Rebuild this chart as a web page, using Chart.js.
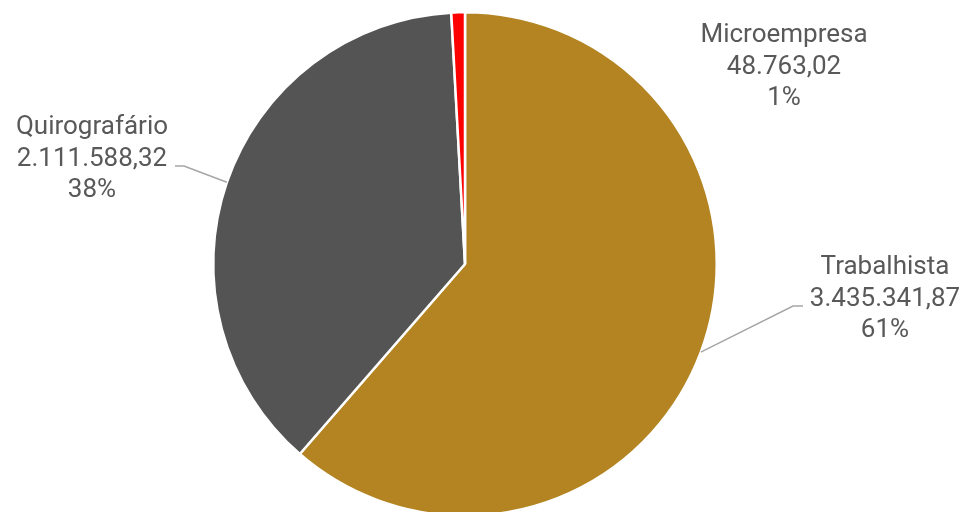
<!DOCTYPE html>
<html>
<head>
<meta charset="utf-8">
<script src="https://cdn.jsdelivr.net/npm/chart.js@4"></script>
<style>
  html, body { margin: 0; padding: 0; background: #fff; overflow: hidden; }
  #wrap { position: relative; width: 967px; height: 521px; }
</style>
</head>
<body>
<div id="wrap"><canvas id="myChart"></canvas></div>
<script>
const categories = ['Trabalhista', 'Quirografário', 'Microempresa'];
const values = [3435341.87, 2111588.32, 48763.02];
const sliceColors = ['#B38421', '#545454', '#FF0000'];

function formatBR(n) {
  const parts = n.toFixed(2).split('.');
  const intPart = parts[0].replace(/\B(?=(\d{3})+(?!\d))/g, '.');
  return intPart + ',' + parts[1];
}

// label placement (text centre of middle line, plus leader elbow / end)
const labelLayout = [
  { x: 885, y: 299, elbow: [793, 306], end: [803, 306] },
  { x: 92, y: 159, elbow: [184, 166], end: [175, 166] },
  { x: 784, y: 67, elbow: null, end: null }
];

const pieLabels = {
  id: 'pieLabels',
  afterDatasetsDraw(chart) {
    const ctx = chart.ctx;
    const meta = chart.getDatasetMeta(0);
    const data = chart.data.datasets[0].data;
    const total = data.reduce((a, b) => a + b, 0);
    ctx.save();
    meta.data.forEach((arc, i) => {
      const lay = labelLayout[i];
      const p = arc.getProps(['x', 'y', 'startAngle', 'endAngle', 'outerRadius'], true);
      const mid = (p.startAngle + p.endAngle) / 2;
      if (lay.elbow) {
        const ax = p.x + Math.cos(mid) * p.outerRadius;
        const ay = p.y + Math.sin(mid) * p.outerRadius;
        ctx.strokeStyle = '#A6A6A6';
        ctx.lineWidth = 1.5;
        ctx.beginPath();
        ctx.moveTo(ax, ay);
        ctx.lineTo(lay.elbow[0], lay.elbow[1]);
        ctx.lineTo(lay.end[0], lay.end[1]);
        ctx.stroke();
      }
      const lines = [
        chart.data.labels[i],
        formatBR(data[i]),
        Math.round(data[i] / total * 100) + '%'
      ];
      ctx.fillStyle = '#595959';
      ctx.font = '26px Roboto';
      ctx.textAlign = 'center';
      ctx.textBaseline = 'middle';
      lines.forEach((t, k) => {
        ctx.fillText(t, lay.x, lay.y + (k - 1) * 31.5);
      });
    });
    ctx.restore();
  }
};

document.addEventListener('DOMContentLoaded', function() {
  if (typeof Chart === 'undefined') {
    console.error('Chart.js is not loaded');
    return;
  }
  const ctx = document.getElementById('myChart');
  new Chart(ctx, {
    type: 'pie',
    data: {
      labels: categories,
      datasets: [{
        data: values,
        backgroundColor: sliceColors,
        borderColor: '#FFFFFF',
        borderWidth: 2.5
      }]
    },
    options: {
      responsive: true,
      maintainAspectRatio: false,
      animation: false,
      layout: { padding: { top: 11, bottom: 4, left: 0, right: 37 } },
      plugins: {
        legend: { display: false },
        tooltip: { enabled: false }
      }
    },
    plugins: [pieLabels]
  });
});
</script>
</body>
</html>
